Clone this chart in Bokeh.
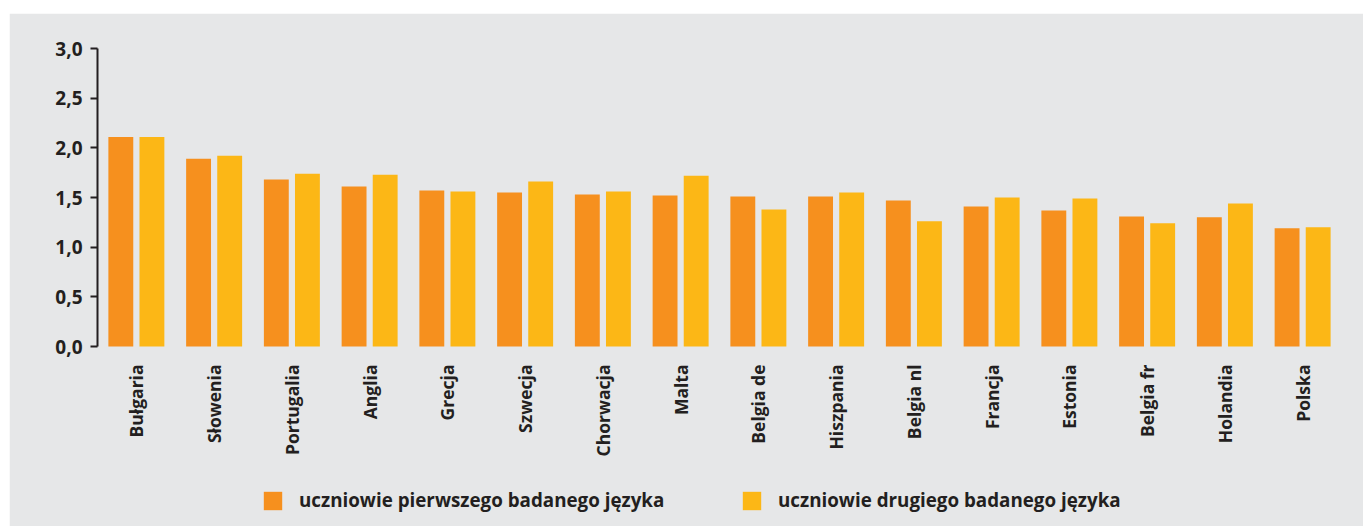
import math
from bokeh.plotting import figure
from bokeh.models import (FactorRange, Range1d, ColumnDataSource, Legend, LegendItem,
                          FixedTicker, CustomJSTickFormatter)
from bokeh.transform import dodge
from bokeh.embed import file_html
from bokeh.resources import INLINE

countries = ["Bułgaria", "Słowenia", "Portugalia", "Anglia", "Grecja", "Szwecja",
             "Chorwacja", "Malta", "Belgia de", "Hiszpania", "Belgia nl", "Francja",
             "Estonia", "Belgia fr", "Holandia", "Polska"]
first_lang = [2.11, 1.89, 1.68, 1.61, 1.57, 1.55, 1.53, 1.52, 1.51, 1.51, 1.47, 1.41,
              1.37, 1.31, 1.30, 1.19]
second_lang = [2.11, 1.92, 1.74, 1.73, 1.56, 1.66, 1.56, 1.72, 1.38, 1.55, 1.26, 1.50,
               1.49, 1.24, 1.44, 1.20]
y_ticks = [0.0, 0.5, 1.0, 1.5, 2.0, 2.5, 3.0]
legend_labels = ["uczniowie pierwszego badanego języka", "uczniowie drugiego badanego języka"]

BG = "#e6e7e8"
ORANGE = "#f6901e"
YELLOW = "#fcb716"
TXT = "#231f20"
FONT = "Open Sans"

src = ColumnDataSource(dict(country=countries, first=first_lang, second=second_lang))

p = figure(width=1354, height=513,
           x_range=FactorRange(factors=countries, range_padding=0),
           y_range=Range1d(-1.812, 3.0),
           output_backend="svg", toolbar_location=None,
           min_border_left=88, min_border_right=22, min_border_top=35, min_border_bottom=0,
           background_fill_color=BG, border_fill_color=BG,
           outline_line_color=BG, outline_line_width=2)
p.margin = (13, 0, 0, 9)

r1 = p.vbar(x=dodge("country", -0.2, range=p.x_range), top="first", width=0.32,
            source=src, fill_color=ORANGE, line_color=None)
r2 = p.vbar(x=dodge("country", 0.2, range=p.x_range), top="second", width=0.32,
            source=src, fill_color=YELLOW, line_color=None)

p.xgrid.visible = False
p.ygrid.visible = False

xa = p.xaxis[0]
xa.fixed_location = 0
xa.axis_line_color = None
xa.major_tick_line_color = None
xa.minor_tick_line_color = None
xa.major_label_orientation = math.pi / 2
xa.major_label_standoff = 12
xa.major_label_text_font = FONT
xa.major_label_text_font_style = "bold"
xa.major_label_text_font_size = "17.5px"
xa.major_label_text_color = TXT

ya = p.yaxis[0]
ya.bounds = (0, 3.0)
ya.ticker = FixedTicker(ticks=y_ticks)
ya.formatter = CustomJSTickFormatter(code="return tick.toFixed(1).replace('.', ',');")
ya.axis_line_color = TXT
ya.axis_line_width = 2
ya.major_tick_line_color = TXT
ya.major_tick_line_width = 2
ya.major_tick_in = 0
ya.major_tick_out = 7
ya.minor_tick_line_color = None
ya.major_label_standoff = 8
ya.major_label_text_font = FONT
ya.major_label_text_font_style = "bold"
ya.major_label_text_font_size = "19px"
ya.major_label_text_color = TXT

for r, lab, xloc in [(r1, legend_labels[0], 164), (r2, legend_labels[1], 643)]:
    leg = Legend(items=[LegendItem(label=lab, renderers=[r])], location=(xloc, 13),
                 orientation="horizontal", padding=0, margin=0, spacing=0,
                 border_line_color=None, background_fill_alpha=0,
                 glyph_width=23, glyph_height=23, label_standoff=15,
                 label_text_font=FONT, label_text_font_style="bold",
                 label_text_font_size="18.8px", label_text_color=TXT)
    p.add_layout(leg)

open("out.html", "w").write(file_html(p, INLINE))
